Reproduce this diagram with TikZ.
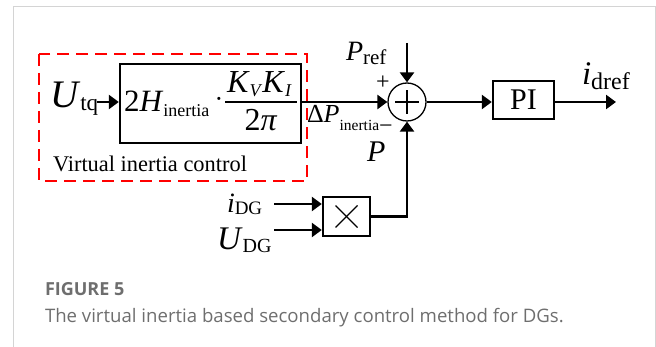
\documentclass[tikz,border=0pt]{standalone}
\usepackage{fontspec}
\setmainfont{Liberation Serif}
\newfontfamily\capfont{Open Sans}
\usetikzlibrary{arrows.meta,shapes.geometric}
\definecolor{capgray}{HTML}{6E6E6E}
\definecolor{framegray}{HTML}{D4D4D4}
\newcommand{\fs}[1]{\fontsize{#1}{#1}\selectfont}
% \vsub{size}{drop}{text}
\newcommand{\vsub}[3]{\raisebox{-#2pt}{\fs{#1}#3}}
\tikzset{
  blk/.style={draw, line width=2.4pt, inner sep=0pt},
  arr/.style={-{Triangle[length=10pt,width=14pt]}, line width=2.8pt},
  lbl/.style={inner sep=0pt, outer sep=0pt},
}
\begin{document}
\begin{tikzpicture}[x=1pt,y=-1pt]
\useasboundingbox (0,0) rectangle (656,347);
% frame
\draw[framegray, line width=1pt] (13,347) -- (13,7) -- (655,7) -- (655,347);
% dashed region
\draw[red, line width=1.5pt, dash pattern=on 12pt off 7pt] (39,54) rectangle (307,181);
\node[lbl, anchor=base west] (vic) at (53,172) {\fs{22.4}Virtual inertia control};
% gain block
\node[blk, minimum width=181, minimum height=79] (gain) at (210.5,103.5) {};
\node[lbl, anchor=base west] (twoh) at (124,112) {\fs{31}2\textit{H}\vsub{18}{5}{inertia}};
\node[lbl] (dot) at (219,102) {\fs{26}·};
\node[lbl, anchor=base west] (kvki) at (227,93) {\fs{32}\textit{K}\vsub{18}{4}{\textit{V}}\textit{K}\vsub{18}{4}{\textit{I}}};
\draw[line width=1.2pt] (225,102) -- (297,102) coordinate (fracend);
\node[lbl, anchor=base] (twopi) at (261,131) {\fs{32}2\textit{π}};
% input U_tq
\node[lbl, anchor=base west] (utq) at (50,108) {\fs{39}\textit{U}\vsub{23}{3}{tq}};
\coordinate (utqout) at (97,102);
\draw[arr] (utqout) -- (utqout -| gain.west);
% summing junction
\node[draw, circle, line width=1.3pt, minimum size=38pt, inner sep=0pt] (sum) at (407,102) {};
\draw[line width=1.4pt] ([xshift=-12pt]sum.center) -- ([xshift=12pt]sum.center);
\draw[line width=1.4pt] ([yshift=-12pt]sum.center) -- ([yshift=12pt]sum.center);
\draw[arr] (gain.east |- sum) -- (sum.west);
\node[lbl, anchor=base west] (dp) at (307,123) {\fs{26}Δ\textit{P}\vsub{15.5}{8}{inertia}};
\node[lbl] (plus) at (383,83) {\fs{24}+};
\node[lbl] (minus) at (386,129) {\fs{24}−};
% P_ref
\coordinate (prefin) at (407,43);
\draw[arr] (prefin) -- (sum.north);
\node[lbl, anchor=base west] (pref) at (346,61) {\fs{28}\textit{P}\vsub{21}{4}{ref}};
% feedback label P
\node[lbl, anchor=base west] (plab) at (367,162) {\fs{30}\textit{P}};
% PI block
\node[blk, minimum width=61, minimum height=38] (pi) at (523.5,100) {\fs{30}PI};
\draw[arr] (sum.east) -- (sum.east -| pi.west);
\coordinate (out) at (616,102);
\draw[arr] (pi.east |- out) -- (out);
\node[lbl, anchor=base west] (idref) at (582,85) {\fs{33}\textit{i}\vsub{24}{5}{dref}};
% multiplier
\node[blk, minimum width=47, minimum height=39] (mul) at (346.5,216.5) {};
\draw[line width=1.4pt] ([shift={(-11pt,-11pt)}]mul.center) -- ([shift={(11pt,11pt)}]mul.center);
\draw[line width=1.4pt] ([shift={(-11pt,11pt)}]mul.center) -- ([shift={(11pt,-11pt)}]mul.center);
\coordinate (idgin) at (274,204);
\coordinate (udgin) at (274,230);
\draw[arr] (idgin) -- (idgin -| mul.west);
\draw[arr] (udgin) -- (udgin -| mul.west);
\node[lbl, anchor=base west] (idg) at (227,213) {\fs{28}\textit{i}\vsub{19}{2}{DG}};
\node[lbl, anchor=base west] (udg) at (217,250) {\fs{33}\textit{U}\vsub{20}{3}{DG}};
\draw[arr] (mul.east) -| (sum.south);
% caption
\node[lbl, anchor=base west, text=capgray] (figno) at (45,296) {\capfont\fs{18}\bfseries FIGURE 5};
\node[lbl, anchor=base west, text=capgray] (cap) at (45,323) {\capfont\fs{18.6}The virtual inertia based secondary control method for DGs.};
\end{tikzpicture}
\end{document}
